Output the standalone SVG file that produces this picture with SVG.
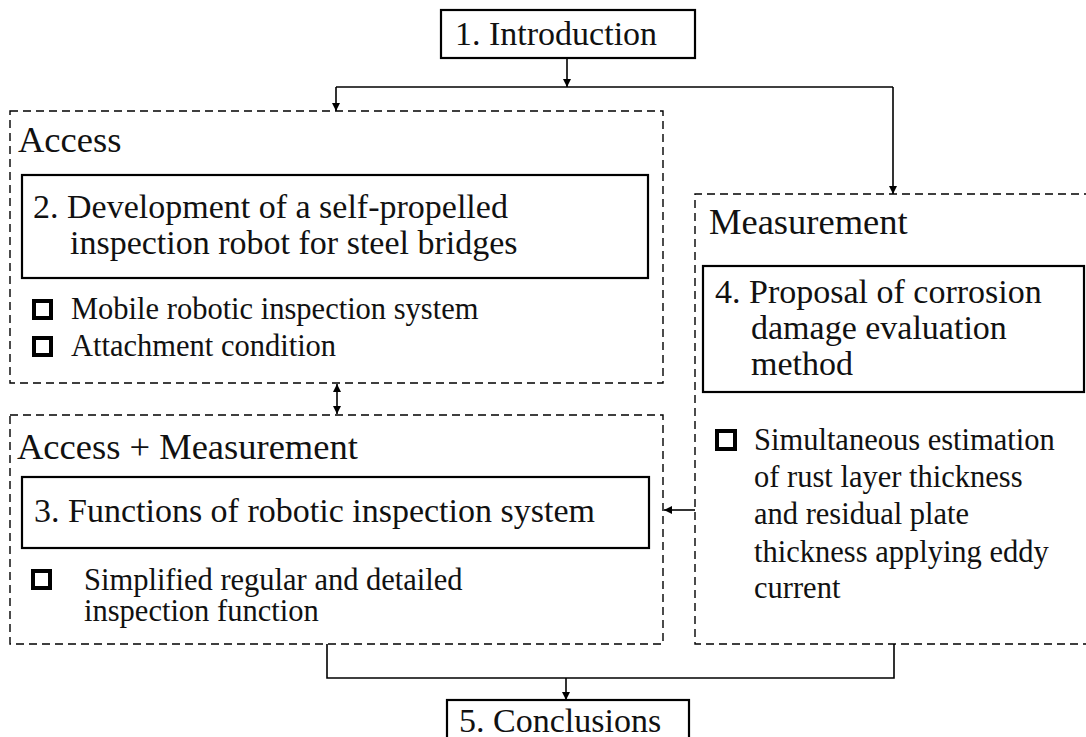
<svg xmlns="http://www.w3.org/2000/svg" width="1086" height="737" viewBox="0 0 1086 737">
<style>
.solid{fill:#fff;stroke:#000;stroke-width:2.2}
.dash{fill:none;stroke:#000;stroke-width:1.4;stroke-dasharray:8 5}
.conn{fill:none;stroke:#000;stroke-width:1.6}
.h{font-family:"Liberation Serif","Times New Roman",serif;font-size:34px;fill:#111}
.g{font-family:"Liberation Serif","Times New Roman",serif;font-size:36.5px;fill:#111}
.b{font-family:"Liberation Serif","Times New Roman",serif;font-size:30.5px;fill:#111}
.sq{fill:#fff;stroke:#000;stroke-width:4}
</style>
<defs>
<marker id="ah" viewBox="0 0 10 10" refX="10" refY="5" markerWidth="8" markerHeight="8" markerUnits="userSpaceOnUse" orient="auto-start-reverse">
<path d="M0,0 L10,5 L0,10 z" fill="#000"/>
</marker>
</defs>
<rect width="1086" height="737" fill="#fff"/>

<g id="group-access">
<rect class="dash" x="10" y="111" width="653" height="272"/>
<text class="g" x="18" y="152">Access</text>
</g>
<g id="group-access-measurement">
<rect class="dash" x="10" y="415" width="653" height="229"/>
<text class="g" x="17" y="459">Access + Measurement</text>
</g>
<g id="group-measurement">
<path class="dash" d="M1092 194 H695 V644 H1092"/>
<text class="g" x="709" y="234">Measurement</text>
</g>

<g id="connectors">
<path class="conn" d="M567 58 V87" marker-end="url(#ah)"/>
<path class="conn" d="M336 87 H893"/>
<path class="conn" d="M336 87 V111" marker-end="url(#ah)"/>
<path class="conn" d="M893 87 V194" marker-end="url(#ah)"/>
<path class="conn" d="M337 384 V414" marker-start="url(#ah)" marker-end="url(#ah)"/>
<path class="conn" d="M695 510 H664" marker-end="url(#ah)"/>
<path class="conn" d="M327 644 V678 H894 V644"/>
<path class="conn" d="M566 678 V700" marker-end="url(#ah)"/>
</g>

<g id="node-introduction">
<rect class="solid" x="441" y="10" width="254" height="48"/>
<text class="h" x="455" y="45">1. Introduction</text>
</g>

<g id="node-development">
<rect class="solid" x="22" y="175" width="626" height="103"/>
<text class="h" x="33" y="218">2. Development of a self-propelled</text>
<text class="h" x="70" y="254">inspection robot for steel bridges</text>
</g>
<g id="bullets-access">
<rect class="sq" x="34" y="301" width="17" height="17"/>
<text class="b" x="71" y="319">Mobile robotic inspection system</text>
<rect class="sq" x="34" y="338" width="17" height="17"/>
<text class="b" x="71" y="356">Attachment condition</text>
</g>

<g id="node-functions">
<rect class="solid" x="22" y="477" width="627" height="71"/>
<text class="h" x="34" y="522">3. Functions of robotic inspection system</text>
</g>
<g id="bullets-functions">
<rect class="sq" x="33" y="571" width="17" height="17"/>
<text class="b" x="84" y="590">Simplified regular and detailed</text>
<text class="b" x="84" y="621">inspection function</text>
</g>

<g id="node-proposal">
<rect class="solid" x="703" y="266" width="381" height="126"/>
<text class="h" x="715" y="303">4. Proposal of corrosion</text>
<text class="h" x="751" y="339">damage evaluation</text>
<text class="h" x="751" y="375">method</text>
</g>
<g id="bullets-measurement">
<rect class="sq" x="717" y="431" width="18" height="18"/>
<text class="b" x="754" y="450">Simultaneous estimation</text>
<text class="b" x="754" y="487">of rust layer thickness</text>
<text class="b" x="754" y="524">and residual plate</text>
<text class="b" x="754" y="562">thickness applying eddy</text>
<text class="b" x="754" y="598">current</text>
</g>

<g id="node-conclusions">
<rect class="solid" x="447" y="700" width="242" height="60"/>
<text class="h" x="459" y="732">5. Conclusions</text>
</g>
</svg>
